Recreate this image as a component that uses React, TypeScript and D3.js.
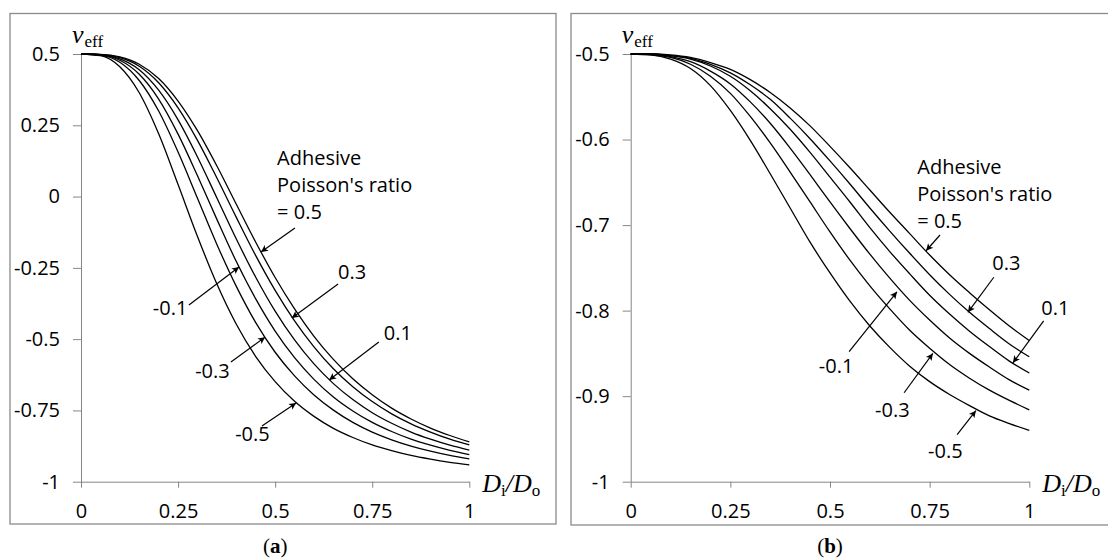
import React, { useEffect, useRef } from "react";
import * as d3 from "d3";

// D_i / D_o sampled every 0.05
const DIAMETER_RATIO = [0, 0.05, 0.1, 0.15, 0.2, 0.25, 0.3, 0.35, 0.4, 0.45, 0.5, 0.55, 0.6, 0.65, 0.7, 0.75, 0.8, 0.85, 0.9, 0.95, 1];

const ADHESIVE_RATIOS = ["0.5", "0.3", "0.1", "-0.1", "-0.3", "-0.5"];

// panel (a): v_eff for adhesive Poisson's ratio 0.5 ... -0.5
const A_P05 = [0.5, 0.499, 0.49, 0.464, 0.414, 0.335, 0.231, 0.107, -0.027, -0.16, -0.284, -0.394, -0.49, -0.571, -0.639, -0.695, -0.742, -0.78, -0.812, -0.838, -0.86];
const A_P03 = [0.5, 0.498, 0.487, 0.457, 0.399, 0.311, 0.197, 0.065, -0.073, -0.207, -0.329, -0.436, -0.527, -0.604, -0.667, -0.719, -0.762, -0.797, -0.826, -0.851, -0.871];
const A_P01 = [0.5, 0.498, 0.483, 0.445, 0.373, 0.269, 0.139, -0.005, -0.149, -0.283, -0.402, -0.503, -0.587, -0.656, -0.712, -0.758, -0.795, -0.826, -0.851, -0.872, -0.889];
const A_N01 = [0.5, 0.497, 0.478, 0.429, 0.342, 0.219, 0.073, -0.08, -0.228, -0.359, -0.472, -0.565, -0.641, -0.703, -0.752, -0.792, -0.824, -0.851, -0.872, -0.89, -0.905];
const A_N03 = [0.5, 0.496, 0.471, 0.407, 0.3, 0.156, -0.006, -0.168, -0.315, -0.442, -0.546, -0.629, -0.696, -0.749, -0.792, -0.826, -0.853, -0.875, -0.893, -0.908, -0.92];
const A_N05 = [0.5, 0.494, 0.455, 0.364, 0.22, 0.042, -0.14, -0.307, -0.448, -0.561, -0.649, -0.718, -0.771, -0.813, -0.845, -0.871, -0.891, -0.908, -0.921, -0.932, -0.941];

// panel (b)
const B_P05 = [-0.5, -0.5, -0.501, -0.504, -0.51, -0.518, -0.53, -0.545, -0.563, -0.584, -0.608, -0.633, -0.659, -0.685, -0.71, -0.735, -0.758, -0.779, -0.799, -0.818, -0.835];
const B_P03 = [-0.5, -0.5, -0.502, -0.505, -0.512, -0.522, -0.536, -0.553, -0.575, -0.599, -0.625, -0.652, -0.68, -0.707, -0.733, -0.758, -0.781, -0.802, -0.821, -0.839, -0.854];
const B_P01 = [-0.5, -0.5, -0.502, -0.506, -0.514, -0.526, -0.543, -0.564, -0.588, -0.615, -0.644, -0.673, -0.703, -0.731, -0.757, -0.782, -0.804, -0.824, -0.842, -0.859, -0.873];
const B_N01 = [-0.5, -0.5, -0.503, -0.509, -0.52, -0.535, -0.556, -0.581, -0.61, -0.641, -0.673, -0.704, -0.734, -0.762, -0.788, -0.811, -0.832, -0.85, -0.866, -0.881, -0.893];
const B_N03 = [-0.5, -0.501, -0.504, -0.512, -0.526, -0.546, -0.573, -0.604, -0.638, -0.673, -0.708, -0.741, -0.771, -0.798, -0.823, -0.844, -0.863, -0.879, -0.893, -0.905, -0.916];
const B_N05 = [-0.5, -0.501, -0.506, -0.517, -0.537, -0.566, -0.601, -0.64, -0.68, -0.72, -0.756, -0.789, -0.818, -0.843, -0.865, -0.883, -0.898, -0.911, -0.923, -0.932, -0.94];

const X_TICKS = [0, 0.25, 0.5, 0.75, 1];
const X_TICK_LABELS = ["0", "0.25", "0.5", "0.75", "1"];
const A_Y_TICKS = [0.5, 0.25, 0, -0.25, -0.5, -0.75, -1];
const A_Y_TICK_LABELS = ["0.5", "0.25", "0", "-0.25", "-0.5", "-0.75", "-1"];
const B_Y_TICKS = [-0.5, -0.6, -0.7, -0.8, -0.9, -1];
const B_Y_TICK_LABELS = ["-0.5", "-0.6", "-0.7", "-0.8", "-0.9", "-1"];

const HEADER_LINES = ["Adhesive", "Poisson's ratio", "= 0.5"];

// annotations in data units: text anchor, arrow tail, arrow tip
const A_NOTES = [
  { label: "", at: [0.505, 0.111], from: [0.551, -0.11], to: [0.4636, -0.1945] },
  { label: "0.3", at: [0.662, -0.289], from: [0.662, -0.307], to: [0.543, -0.426] },
  { label: "0.1", at: [0.78, -0.503], from: [0.767, -0.51], to: [0.639, -0.643] },
  { label: "-0.1", at: [0.185, -0.415], from: [0.278, -0.38], to: [0.407, -0.247] },
  { label: "-0.3", at: [0.294, -0.636], from: [0.386, -0.58], to: [0.474, -0.493] },
  { label: "-0.5", at: [0.397, -0.857], from: [0.466, -0.805], to: [0.554, -0.724] },
];
const B_NOTES = [
  { label: "", at: [0.719, -0.64], from: [0.776, -0.7116], to: [0.741, -0.73] },
  { label: "0.3", at: [0.907, -0.7525], from: [0.911, -0.761], to: [0.846, -0.802] },
  { label: "0.1", at: [1.03, -0.805], from: [1.036, -0.812], to: [0.959, -0.861] },
  { label: "-0.1", at: [0.472, -0.873], from: [0.548, -0.848], to: [0.668, -0.778] },
  { label: "-0.3", at: [0.613, -0.924], from: [0.686, -0.896], to: [0.758, -0.85] },
  { label: "-0.5", at: [0.746, -0.972], from: [0.819, -0.945], to: [0.866, -0.917] },
];

const SANS = "'Open Sans', 'Noto Sans', sans-serif";
const SERIF = "'Liberation Serif', 'DejaVu Serif', serif";
const AXIS_GREY = "#868686";
const FONT_SIZE = 20;

const PANELS = [
  {
    tag: "a",
    box: [10, 13.5, 546, 510.5],
    xRange: [81, 469.3],
    yDomain: [-1, 0.5],
    yTicks: A_Y_TICKS,
    yLabels: A_Y_TICK_LABELS,
    series: [A_P05, A_P03, A_P01, A_N01, A_N03, A_N05],
    notes: A_NOTES,
  },
  {
    tag: "b",
    box: [571, 13.5, 560, 511.5],
    xRange: [630.7, 1029.3],
    yDomain: [-1, -0.5],
    yTicks: B_Y_TICKS,
    yLabels: B_Y_TICK_LABELS,
    series: [B_P05, B_P03, B_P01, B_N01, B_N03, B_N05],
    notes: B_NOTES,
  },
];

const App = () => {
  const svgRef = useRef(null);

  useEffect(() => {
    const svg = d3.select(svgRef.current);
    svg.selectAll("*").remove();

    svg
      .append("defs")
      .append("marker")
      .attr("id", "head")
      .attr("markerUnits", "userSpaceOnUse")
      .attr("viewBox", "0 0 10 10")
      .attr("refX", 10)
      .attr("refY", 5)
      .attr("markerWidth", 9)
      .attr("markerHeight", 7)
      .attr("orient", "auto")
      .append("path")
      .attr("d", "M0,0 L10,5 L0,10 L2.5,5 Z")
      .attr("fill", "#000");

    PANELS.forEach((p) => {
      const g = svg.append("g");

      g.append("rect")
        .attr("x", p.box[0])
        .attr("y", p.box[1])
        .attr("width", p.box[2])
        .attr("height", p.box[3])
        .attr("fill", "#fff")
        .attr("stroke", "#8a8a8a")
        .attr("stroke-width", 1.3);

      const x = d3.scaleLinear().domain([0, 1]).range(p.xRange);
      const y = d3.scaleLinear().domain(p.yDomain).range([481.7, 54]);

      const yAxis = d3
        .axisLeft(y)
        .tickValues(p.yTicks)
        .tickFormat((d, i) => p.yLabels[i])
        .tickSize(8)
        .tickSizeOuter(0)
        .tickPadding(13);

      const xAxis = d3
        .axisBottom(x)
        .tickValues(X_TICKS)
        .tickFormat((d, i) => X_TICK_LABELS[i])
        .tickSize(6)
        .tickSizeOuter(0)
        .tickPadding(16);

      g.append("g").attr("transform", `translate(${p.xRange[0]},0)`).call(yAxis);
      g.append("g").attr("transform", `translate(0,${y(-1)})`).call(xAxis);

      g.selectAll(".domain, .tick line").attr("stroke", AXIS_GREY).attr("stroke-width", 1);
      g.selectAll(".tick text")
        .attr("fill", "#000")
        .attr("font-family", SANS)
        .attr("font-size", FONT_SIZE);

      // axis titles
      const yt = g
        .append("text")
        .attr("x", p.xRange[0] - 9)
        .attr("y", 43)
        .attr("font-family", SERIF)
        .attr("fill", "#000");
      yt.append("tspan").attr("font-style", "italic").attr("font-size", 26).text("ν");
      yt.append("tspan").attr("font-size", 17).attr("dx", 1).attr("dy", 4).text("eff");

      const xt = g
        .append("text")
        .attr("x", p.xRange[1] + 13)
        .attr("y", 492)
        .attr("font-family", SERIF)
        .attr("fill", "#000");
      xt.append("tspan").attr("font-style", "italic").attr("font-size", 26).text("D");
      xt.append("tspan").attr("font-size", 17).attr("dy", 4).text("i");
      xt.append("tspan").attr("font-style", "italic").attr("font-size", 26).attr("dy", -4).text("/");
      xt.append("tspan").attr("font-style", "italic").attr("font-size", 26).text("D");
      xt.append("tspan").attr("font-size", 17).attr("dy", 4).text("o");

      // curves
      const line = d3
        .line()
        .x((d, i) => x(DIAMETER_RATIO[i]))
        .y((d) => y(d))
        .curve(d3.curveMonotoneX);

      g.selectAll(".curve")
        .data(p.series)
        .enter()
        .append("path")
        .attr("class", "curve")
        .attr("d", (d) => line(d))
        .attr("fill", "none")
        .attr("stroke", "#000")
        .attr("stroke-width", 1.3)
        .append("title")
        .text((d, i) => ADHESIVE_RATIOS[i]);

      // annotations
      p.notes.forEach((n) => {
        g.append("line")
          .attr("x1", x(n.from[0]))
          .attr("y1", y(n.from[1]))
          .attr("x2", x(n.to[0]))
          .attr("y2", y(n.to[1]))
          .attr("stroke", "#000")
          .attr("stroke-width", 1.2)
          .attr("marker-end", "url(#head)");

        const t = g
          .append("text")
          .attr("x", x(n.at[0]))
          .attr("y", y(n.at[1]))
          .attr("font-family", SANS)
          .attr("font-size", FONT_SIZE)
          .attr("fill", "#000");
        if (n.label) {
          t.text(n.label);
        } else {
          HEADER_LINES.forEach((s, i) => {
            t.append("tspan")
              .attr("x", x(n.at[0]))
              .attr("dy", i === 0 ? 0 : 27)
              .text(s);
          });
        }
      });

      // panel tag
      const tag = svg
        .append("text")
        .attr("x", (p.xRange[0] + p.xRange[1]) / 2)
        .attr("y", 553)
        .attr("text-anchor", "middle")
        .attr("font-family", SERIF)
        .attr("font-size", 21)
        .attr("fill", "#000");
      tag.append("tspan").text("(");
      tag.append("tspan").attr("font-weight", "bold").text(p.tag);
      tag.append("tspan").text(")");
    });
  }, []);

  return (
    <svg
      ref={svgRef}
      width={1108}
      height={559}
      style={{ position: "absolute", left: 0, top: 0, background: "#fff" }}
    ></svg>
  );
};

export default App;
